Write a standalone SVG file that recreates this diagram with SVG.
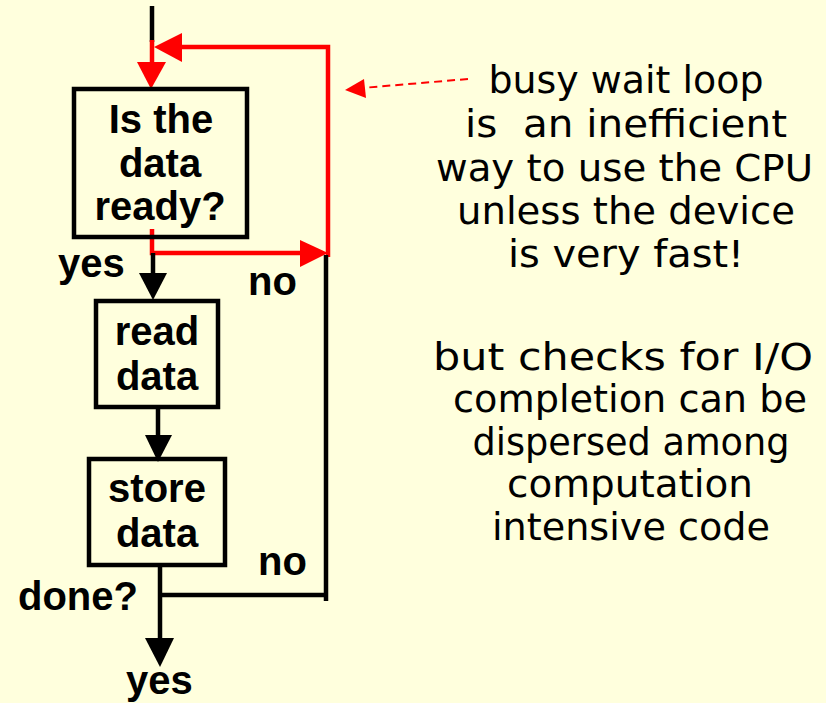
<svg xmlns="http://www.w3.org/2000/svg" width="826" height="703" viewBox="0 0 826 703">
  <style>
    .box { fill: none; stroke: #000; stroke-width: 4.5; }
    .blk { fill: none; stroke: #000; stroke-width: 4.5; }
    .red { fill: none; stroke: #ff0000; stroke-width: 4.5; }
    .lbl { font-family: "Liberation Sans", Arial, sans-serif; font-weight: bold; font-size: 40px; fill: #000; }
    .note { font-family: "DejaVu Sans", "Liberation Sans", sans-serif; font-size: 37px; fill: #000; text-anchor: middle; }
  </style>
  <rect width="826" height="703" fill="#ffffdd"/>

  <!-- connectors -->
  <g id="connectors">
    <!-- entry line -->
    <line class="blk" x1="152" y1="6" x2="152" y2="42"/>
    <!-- polling loop (red) -->
    <polyline class="red" points="152,229 152,253 300,253"/>
    <polyline class="red" points="328,257 328,47 180,47"/>
    <line class="red" x1="152" y1="40" x2="152" y2="64"/>
    <polygon fill="#ff0000" points="137,62 166,62 151,89"/>
    <polygon fill="#ff0000" points="182,33 182,62 154,47"/>
    <polygon fill="#ff0000" points="300,240 300,267 328,253"/>
    <!-- yes: to read data -->
    <line class="blk" x1="153" y1="253" x2="153" y2="275"/>
    <polygon fill="#000" points="139,273 167,273 153,300"/>
    <!-- read -> store -->
    <line class="blk" x1="158" y1="409" x2="158" y2="437"/>
    <polygon fill="#000" points="145,435 172,435 158,462"/>
    <!-- done? -->
    <line class="blk" x1="160" y1="567" x2="160" y2="640"/>
    <polygon fill="#000" points="145,638 174,638 160,667"/>
    <polyline class="blk" points="160,595 326,595"/>
    <line class="blk" x1="326" y1="255" x2="326" y2="601"/>
    <!-- callout arrow -->
    <line x1="468" y1="79" x2="362" y2="88" stroke="#ff0000" stroke-width="2" stroke-dasharray="8,5"/>
    <polygon fill="#ff0000" points="364,79 366,98 345,90"/>
  </g>

  <g id="node-ready">
    <rect class="box" x="74" y="89" width="173" height="148"/>
    <text class="lbl" text-anchor="middle" x="161" y="133">Is the</text>
    <text class="lbl" text-anchor="middle" x="160" y="177">data</text>
    <text class="lbl" text-anchor="middle" x="160" y="220">ready?</text>
  </g>

  <g id="node-read">
    <rect class="box" x="96" y="301" width="122" height="106"/>
    <text class="lbl" text-anchor="middle" x="157" y="345">read</text>
    <text class="lbl" text-anchor="middle" x="157" y="390">data</text>
  </g>

  <g id="node-store">
    <rect class="box" x="89" y="459" width="136" height="106"/>
    <text class="lbl" text-anchor="middle" x="157" y="502">store</text>
    <text class="lbl" text-anchor="middle" x="157" y="547">data</text>
  </g>

  <g id="labels">
    <text class="lbl" x="58" y="277">yes</text>
    <text class="lbl" x="248" y="295">no</text>
    <text class="lbl" x="258" y="575">no</text>
    <text class="lbl" x="18" y="610">done?</text>
    <text class="lbl" x="126" y="694">yes</text>
  </g>

  <g id="note-busy">
    <text class="note" x="626" y="93" textLength="275" lengthAdjust="spacingAndGlyphs">busy wait loop</text>
    <text class="note" x="626" y="137" textLength="322" lengthAdjust="spacingAndGlyphs" xml:space="preserve">is  an inefficient</text>
    <text class="note" x="624.5" y="181" textLength="377" lengthAdjust="spacingAndGlyphs">way to use the CPU</text>
    <text class="note" x="626" y="224" textLength="338" lengthAdjust="spacingAndGlyphs">unless the device</text>
    <text class="note" x="626" y="267" textLength="236" lengthAdjust="spacingAndGlyphs">is very fast!</text>
  </g>

  <g id="note-checks">
    <text class="note" x="623" y="370" textLength="380" lengthAdjust="spacingAndGlyphs">but checks for I/O</text>
    <text class="note" x="630" y="412" textLength="354" lengthAdjust="spacingAndGlyphs">completion can be</text>
    <text class="note" x="631" y="455" textLength="317" lengthAdjust="spacingAndGlyphs">dispersed among</text>
    <text class="note" x="630" y="497" textLength="246" lengthAdjust="spacingAndGlyphs">computation</text>
    <text class="note" x="631" y="540" textLength="278" lengthAdjust="spacingAndGlyphs">intensive code</text>
  </g>
</svg>
